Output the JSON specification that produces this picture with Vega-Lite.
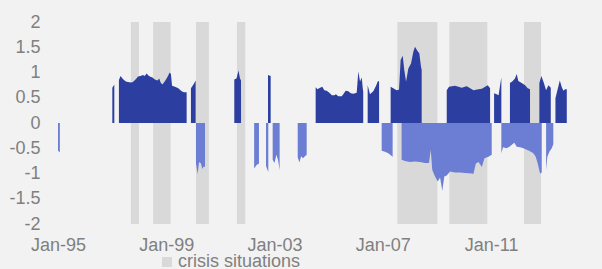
{
"$schema": "https://vega.github.io/schema/vega-lite/v6.json",
"width": 509, "height": 202,
"autosize": {"type": "none"},
"padding": {"left": 58, "top": 22, "right": 35, "bottom": 45},
"background": "#F2F2F2",
"config": {"view": {"stroke": null}, "font": "Liberation Sans", "axis": {"labelOverlap": false, "labelSeparation": 0}},
"datasets": {
"crisis": [
{"start":"1997-09-10","end":"1997-12-28","label":"crisis situations"},
{"start":"1998-07-08","end":"1999-03-01","label":"crisis situations"},
{"start":"2000-02-06","end":"2000-07-30","label":"crisis situations"},
{"start":"2001-08-12","end":"2001-12-02","label":"crisis situations"},
{"start":"2007-07-16","end":"2009-01-07","label":"crisis situations"},
{"start":"2009-06-17","end":"2010-11-12","label":"crisis situations"},
{"start":"2012-03-21","end":"2012-11-06","label":"crisis situations"}
],
"pos": [
{"d":"1997-01-03","v":0.70},{"d":"1997-01-30","v":0.76},{"d":"1997-02-15","v":null},
{"d":"1997-04-02","v":0.85},{"d":"1997-04-25","v":0.93},{"d":"1997-05-25","v":0.87},{"d":"1997-07-05","v":0.82},{"d":"1997-08-02","v":0.81},{"d":"1997-09-12","v":0.80},{"d":"1997-10-08","v":0.81},{"d":"1997-11-12","v":0.86},{"d":"1997-12-16","v":0.92},{"d":"1998-01-18","v":0.93},{"d":"1998-02-21","v":0.95},{"d":"1998-03-15","v":0.93},{"d":"1998-04-11","v":0.98},{"d":"1998-05-05","v":0.94},{"d":"1998-05-25","v":0.92},{"d":"1998-06-28","v":0.90},{"d":"1998-08-01","v":0.86},{"d":"1998-09-04","v":0.84},{"d":"1998-09-28","v":0.88},{"d":"1998-10-17","v":0.80},{"d":"1998-11-08","v":0.76},{"d":"1998-12-01","v":0.80},{"d":"1998-12-24","v":0.85},{"d":"1999-01-24","v":0.93},{"d":"1999-02-15","v":1.00},{"d":"1999-03-05","v":0.97},{"d":"1999-03-20","v":0.74},{"d":"1999-04-29","v":0.72},{"d":"1999-06-12","v":0.69},{"d":"1999-07-05","v":0.66},{"d":"1999-07-28","v":0.63},{"d":"1999-08-28","v":0.61},{"d":"1999-10-03","v":0.61},{"d":"1999-10-25","v":null},
{"d":"1999-11-30","v":0.69},{"d":"2000-01-03","v":0.76},{"d":"2000-02-02","v":0.84},{"d":"2000-03-01","v":null},
{"d":"2001-07-07","v":0.86},{"d":"2001-08-06","v":0.88},{"d":"2001-09-02","v":1.04},{"d":"2001-09-22","v":0.88},{"d":"2001-10-06","v":0.84},{"d":"2001-11-01","v":null},
{"d":"2002-10-05","v":0.95},{"d":"2002-11-10","v":0.93},{"d":"2002-12-01","v":null},
{"d":"2004-07-09","v":0.71},{"d":"2004-08-03","v":0.67},{"d":"2004-09-06","v":0.70},{"d":"2004-10-07","v":0.72},{"d":"2004-11-03","v":0.65},{"d":"2004-12-05","v":0.64},{"d":"2005-01-10","v":0.60},{"d":"2005-02-13","v":0.55},{"d":"2005-03-18","v":0.55},{"d":"2005-04-09","v":0.57},{"d":"2005-05-10","v":0.53},{"d":"2005-06-25","v":0.53},{"d":"2005-07-17","v":0.57},{"d":"2005-08-18","v":0.64},{"d":"2005-09-23","v":0.63},{"d":"2005-10-26","v":0.59},{"d":"2005-11-30","v":0.58},{"d":"2006-01-14","v":0.60},{"d":"2006-02-05","v":1.02},{"d":"2006-02-28","v":0.82},{"d":"2006-03-23","v":0.90},{"d":"2006-04-05","v":0.70},{"d":"2006-04-12","v":0.62},{"d":"2006-05-01","v":null},
{"d":"2006-06-11","v":0.75},{"d":"2006-07-12","v":0.57},{"d":"2006-08-26","v":0.63},{"d":"2006-10-02","v":0.74},{"d":"2006-10-25","v":0.82},{"d":"2006-11-12","v":0.83},{"d":"2006-12-15","v":null},
{"d":"2007-04-17","v":0.72},{"d":"2007-05-22","v":0.69},{"d":"2007-07-07","v":0.65},{"d":"2007-08-08","v":0.66},{"d":"2007-08-30","v":1.25},{"d":"2007-09-27","v":1.33},{"d":"2007-10-18","v":1.05},{"d":"2007-11-11","v":0.82},{"d":"2007-12-12","v":1.08},{"d":"2008-01-17","v":1.18},{"d":"2008-02-17","v":1.41},{"d":"2008-03-11","v":1.51},{"d":"2008-04-11","v":1.43},{"d":"2008-05-08","v":1.38},{"d":"2008-05-31","v":1.11},{"d":"2008-06-09","v":1.05},{"d":"2008-07-01","v":null},
{"d":"2009-05-13","v":0.65},{"d":"2009-06-13","v":0.72},{"d":"2009-07-23","v":0.73},{"d":"2009-09-02","v":0.74},{"d":"2009-10-17","v":0.72},{"d":"2009-12-02","v":0.70},{"d":"2010-01-12","v":0.72},{"d":"2010-02-08","v":0.73},{"d":"2010-03-25","v":0.69},{"d":"2010-05-09","v":0.65},{"d":"2010-07-16","v":0.67},{"d":"2010-08-30","v":0.68},{"d":"2010-10-13","v":0.72},{"d":"2010-11-18","v":0.75},{"d":"2010-12-19","v":0.69},{"d":"2011-01-10","v":null},
{"d":"2011-02-11","v":0.59},{"d":"2011-03-17","v":0.57},{"d":"2011-04-13","v":0.55},{"d":"2011-05-03","v":0.75},{"d":"2011-05-20","v":0.90},{"d":"2011-06-15","v":null},
{"d":"2011-09-13","v":0.79},{"d":"2011-10-14","v":0.82},{"d":"2011-11-20","v":0.88},{"d":"2011-12-13","v":0.97},{"d":"2012-01-04","v":0.83},{"d":"2012-02-19","v":0.79},{"d":"2012-04-04","v":0.75},{"d":"2012-05-10","v":0.69},{"d":"2012-06-10","v":0.67},{"d":"2012-07-15","v":null},
{"d":"2012-10-14","v":0.79},{"d":"2012-11-10","v":0.93},{"d":"2012-12-12","v":0.80},{"d":"2013-01-13","v":0.65},{"d":"2013-02-13","v":0.75},{"d":"2013-03-17","v":0.70},{"d":"2013-04-10","v":null},
{"d":"2013-05-19","v":0.49},{"d":"2013-06-11","v":0.63},{"d":"2013-07-17","v":0.84},{"d":"2013-08-13","v":0.71},{"d":"2013-09-04","v":0.64},{"d":"2013-09-26","v":0.67},{"d":"2013-10-19","v":0.67}
],
"neg": [
{"d":"1995-01-01","v":-0.55},{"d":"1995-01-26","v":-0.58},{"d":"1995-03-01","v":null},
{"d":"2000-02-06","v":-0.80},{"d":"2000-02-28","v":-1.01},{"d":"2000-03-18","v":-0.77},{"d":"2000-04-14","v":-0.80},{"d":"2000-05-01","v":-0.91},{"d":"2000-05-20","v":-0.86},{"d":"2000-06-07","v":-0.87},{"d":"2000-07-01","v":null},
{"d":"2002-04-01","v":-0.90},{"d":"2002-05-04","v":-0.83},{"d":"2002-06-05","v":-0.80},{"d":"2002-07-15","v":null},
{"d":"2002-09-08","v":-0.85},{"d":"2002-10-09","v":-0.97},{"d":"2002-10-25","v":null},
{"d":"2002-12-07","v":-0.73},{"d":"2003-01-01","v":-0.79},{"d":"2003-01-25","v":-0.63},{"d":"2003-02-17","v":-0.73},{"d":"2003-03-11","v":-0.93},{"d":"2003-04-01","v":null},
{"d":"2003-11-10","v":-0.68},{"d":"2003-12-03","v":-0.78},{"d":"2003-12-26","v":-0.66},{"d":"2004-01-20","v":-0.70},{"d":"2004-02-16","v":-0.66},{"d":"2004-03-10","v":-0.63},{"d":"2004-04-01","v":null},
{"d":"2006-12-17","v":-0.55},{"d":"2007-01-31","v":-0.57},{"d":"2007-03-16","v":-0.60},{"d":"2007-05-14","v":-0.67},{"d":"2007-07-01","v":null},
{"d":"2007-09-12","v":-0.73},{"d":"2007-10-27","v":-0.75},{"d":"2008-01-03","v":-0.77},{"d":"2008-03-11","v":-0.76},{"d":"2008-05-17","v":-0.77},{"d":"2008-07-23","v":-0.79},{"d":"2008-09-16","v":-0.79},{"d":"2008-10-09","v":-0.53},{"d":"2008-10-30","v":-0.93},{"d":"2008-12-06","v":-1.06},{"d":"2009-01-12","v":-1.16},{"d":"2009-02-12","v":-1.08},{"d":"2009-03-14","v":-1.34},{"d":"2009-04-10","v":-1.06},{"d":"2009-05-13","v":-1.04},{"d":"2009-06-27","v":-0.96},{"d":"2009-09-02","v":-0.98},{"d":"2009-11-09","v":-0.98},{"d":"2010-01-16","v":-0.99},{"d":"2010-04-20","v":-1.00},{"d":"2010-05-08","v":-1.01},{"d":"2010-06-10","v":-0.80},{"d":"2010-07-16","v":-0.77},{"d":"2010-08-30","v":-0.87},{"d":"2010-10-04","v":-0.70},{"d":"2010-11-27","v":-0.67},{"d":"2011-01-10","v":-0.63},{"d":"2011-02-01","v":null},
{"d":"2011-05-20","v":-0.60},{"d":"2011-06-12","v":-0.48},{"d":"2011-08-01","v":-0.50},{"d":"2011-09-15","v":-0.46},{"d":"2011-10-16","v":-0.42},{"d":"2011-11-12","v":-0.39},{"d":"2011-12-14","v":-0.47},{"d":"2012-01-27","v":-0.48},{"d":"2012-03-12","v":-0.50},{"d":"2012-04-27","v":-0.53},{"d":"2012-06-10","v":-0.56},{"d":"2012-07-25","v":-0.60},{"d":"2012-08-26","v":-0.67},{"d":"2012-09-22","v":-0.80},{"d":"2012-10-23","v":-1.00},{"d":"2012-11-15","v":-0.98},{"d":"2012-12-15","v":null},
{"d":"2013-01-13","v":-0.93},{"d":"2013-01-30","v":-0.67},{"d":"2013-02-26","v":-0.57},{"d":"2013-03-30","v":-0.50},{"d":"2013-04-20","v":-0.42}
]
},
"layer": [
{
"data": {"name": "crisis"},
"mark": {"type": "rect"},
"encoding": {
"x": {"field": "start", "type": "temporal",
"scale": {"type": "utc", "domain": [{"year": 1995, "month": "jan", "date": 1, "utc": true}, {"year": 2013, "month": "oct", "date": 22, "utc": true}]},
"axis": {"values": [{"year": 1995, "month": "jan", "date": 1, "utc": true}, {"year": 1999, "month": "jan", "date": 1, "utc": true}, {"year": 2003, "month": "jan", "date": 1, "utc": true}, {"year": 2007, "month": "jan", "date": 1, "utc": true}, {"year": 2011, "month": "jan", "date": 1, "utc": true}],
"format": "%b-%y", "domain": false, "ticks": false, "grid": false, "labelFontSize": 18, "labelColor": "#808080", "labelPadding": 12, "labelFlush": false, "labelOverlap": false, "title": null}},
"x2": {"field": "end"},
"y": {"datum": -2, "type": "quantitative",
"scale": {"domain": [-2, 2], "nice": false},
"axis": {"tickCount": 8, "labelExpr": "replace(datum.label, '\u2212', '-')", "format": ".1~f", "domain": false, "ticks": false, "grid": false, "labelFontSize": 18, "labelColor": "#808080", "labelPadding": 18, "labelOverlap": false, "labelFlush": false, "title": null}},
"y2": {"datum": 2},
"color": {"field": "label", "type": "nominal",
"scale": {"domain": ["crisis situations"], "range": ["#D9D9D9"]},
"legend": {"orient": "none", "legendX": 100, "legendY": 231, "title": null, "symbolType": "square", "symbolSize": 100, "symbolStrokeWidth": 0, "labelFontSize": 18, "labelColor": "#808080", "labelOffset": 2, "padding": 0}}
}
},
{
"data": {"name": "pos"},
"mark": {"type": "area", "color": "#2C3FA1", "invalid": "break-paths-show-domains"},
"encoding": {"x": {"field": "d", "type": "temporal"}, "y": {"field": "v", "type": "quantitative"}}
},
{
"data": {"name": "neg"},
"mark": {"type": "area", "color": "#6B7ED3", "invalid": "break-paths-show-domains"},
"encoding": {"x": {"field": "d", "type": "temporal"}, "y": {"field": "v", "type": "quantitative"}}
},
{
"mark": {"type": "rule", "color": "#8A8A8A", "strokeWidth": 2},
"encoding": {"y": {"datum": 0, "type": "quantitative"}}
}
]
}
